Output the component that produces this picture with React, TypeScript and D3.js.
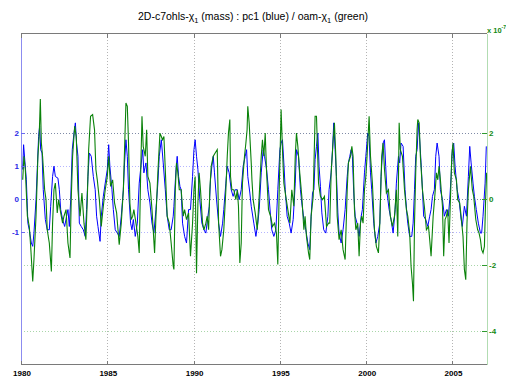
import React, { useEffect, useRef } from 'react';
import * as d3 from 'd3';

// pc1 (blue)
const pc1Years = [
  1980.10, 1980.15, 1980.21, 1980.31, 1980.40, 1980.48, 1980.60, 1980.68, 1980.75, 1980.87, 1980.95,
  1981.02, 1981.08, 1981.14, 1981.22, 1981.29, 1981.41, 1981.52, 1981.64, 1981.72, 1981.83, 1981.91, 1981.99,
  1982.14, 1982.22, 1982.30, 1982.41, 1982.53, 1982.64, 1982.72, 1982.80, 1982.88, 1982.97,
  1983.07, 1983.15, 1983.22, 1983.30, 1983.38, 1983.49, 1983.61, 1983.72, 1983.80, 1983.88, 1983.96,
  1984.07, 1984.19, 1984.30, 1984.38, 1984.46, 1984.58, 1984.65, 1984.77, 1984.88,
  1985.00, 1985.08, 1985.15, 1985.27, 1985.35, 1985.46, 1985.58, 1985.69, 1985.81, 1985.93,
  1986.00, 1986.08, 1986.16, 1986.23, 1986.35, 1986.43, 1986.51, 1986.62, 1986.74, 1986.85, 1986.93,
  1987.05, 1987.12, 1987.24, 1987.35, 1987.47, 1987.59, 1987.70, 1987.82, 1987.93,
  1988.01, 1988.13, 1988.24, 1988.36, 1988.47, 1988.59, 1988.70, 1988.82, 1988.86, 1988.98,
  1989.05, 1989.13, 1989.21, 1989.28, 1989.36, 1989.48, 1989.59, 1989.71, 1989.82, 1989.94,
  1990.02, 1990.09, 1990.17, 1990.25, 1990.36, 1990.48, 1990.60, 1990.71, 1990.83, 1990.91, 1990.98,
  1991.06, 1991.14, 1991.21, 1991.33, 1991.45, 1991.56, 1991.68, 1991.75, 1991.87, 1991.95,
  1992.06, 1992.18, 1992.29, 1992.41, 1992.53, 1992.64, 1992.76, 1992.87, 1992.99,
  1993.07, 1993.14, 1993.26, 1993.34, 1993.49, 1993.61, 1993.72, 1993.80, 1993.92,
  1994.03, 1994.11, 1994.23, 1994.34, 1994.46, 1994.53, 1994.65, 1994.77, 1994.88,
  1995.00, 1995.07, 1995.15, 1995.23, 1995.31, 1995.42, 1995.54, 1995.65, 1995.77, 1995.89, 1995.96,
  1996.08, 1996.19, 1996.27, 1996.39, 1996.50, 1996.62, 1996.73, 1996.81, 1996.89, 1996.97,
  1997.04, 1997.12, 1997.20, 1997.27, 1997.35, 1997.43, 1997.54, 1997.66, 1997.78, 1997.85, 1997.97,
  1998.05, 1998.12, 1998.20, 1998.28, 1998.36, 1998.43, 1998.55, 1998.66, 1998.78, 1998.90, 1998.97,
  1999.05, 1999.13, 1999.20, 1999.28, 1999.36, 1999.47, 1999.59, 1999.71, 1999.78, 1999.90, 1999.98,
  2000.09, 2000.17, 2000.25, 2000.32, 2000.44, 2000.56, 2000.67, 2000.79, 2000.86, 2000.98,
  2001.06, 2001.13, 2001.21, 2001.33, 2001.44, 2001.56, 2001.68, 2001.75, 2001.87, 2001.94,
  2002.02, 2002.14, 2002.25, 2002.37, 2002.41, 2002.52, 2002.64, 2002.72, 2002.80, 2002.87, 2002.95,
  2003.03, 2003.10, 2003.18, 2003.26, 2003.33, 2003.45, 2003.57, 2003.68, 2003.76, 2003.84, 2003.95,
  2004.03, 2004.11, 2004.22, 2004.30, 2004.42, 2004.53, 2004.65, 2004.76, 2004.84, 2004.92, 2004.99,
  2005.07, 2005.15, 2005.27, 2005.38, 2005.50, 2005.57, 2005.69, 2005.81, 2005.92,
  2006.00, 2006.08, 2006.19, 2006.27, 2006.38, 2006.50, 2006.62, 2006.69, 2006.77, 2006.89, 2006.96,
];
const pc1Values = [
  0.89, 1.64, 1.24, 0.58, -0.73, -0.93, -1.33, -1.43, -1.03, -0.02, 0.99,
  1.89, 2.2, 1.49, 1.39, 0.28, -0.62, -0.93, -0.93, -0.22, 0.68, 0.99, 0.68,
  0.63, 0.28, -0.32, -0.62, -0.83, -0.52, -0.32, -0.83, -0.02, 1.49,
  1.99, 2.3, 1.69, 1.29, -0.73, -0.83, -0.93, -1.13, -0.32, 0.68, 1.39,
  1.29, 0.68, 0.28, -0.52, -0.83, -1.28, -0.52, 0.08, 0.48,
  0.89, 1.64, 0.99, 0.28, -0.32, -0.93, -1.03, -1.13, -0.52, 0.28,
  1.09, 1.79, 1.29, 0.28, -0.73, -0.93, -0.62, -1.13, -0.73, 0.48, 0.89,
  1.49, 0.79, 1.09, 0.28, -0.12, -0.73, -1.03, -0.32, 0.48,
  1.29, 1.79, 1.09, 0.28, -0.52, -0.93, -0.93, -0.52, -0.22, 0.89,
  1.29, 0.68, 0.38, 0.28, -0.73, -1.13, -1.33, -0.32, -0.32, 0.68,
  1.49, 1.79, 1.29, 0.89, -0.02, -0.73, -0.93, -1.03, -0.52, -0.22, 0.58,
  0.99, 1.29, 0.79, -0.02, -0.73, -1.13, -0.73, -0.32, 0.48, 0.99,
  0.79, 0.28, 0.08, 0.28, 0.28, -0.02, 0.28, 0.99, 1.29,
  1.49, 0.68, 0.18, -0.22, -0.73, -1.13, -0.73, -0.32, 0.79,
  1.49, 1.29, 0.89, 0.28, -0.52, -0.93, -1.13, -0.93, 0.28,
  1.49, 1.69, 1.79, 1.09, 0.28, -0.52, -0.73, -1.03, -0.62, 0.48, 1.49,
  1.29, 0.28, -0.12, -0.62, -0.93, -1.33, -1.53, -0.52, 0.18, 0.28,
  1.19, 1.59, 1.99, 0.99, 0.38, -0.42, -0.93, -1.03, -0.52, 0.28, 0.79,
  1.49, 2.3, 1.49, 0.68, -0.42, -1.03, -1.33, -0.93, -0.32, 0.68, 1.09,
  1.29, 1.49, 1.29, 0.18, -0.52, -0.73, -1.13, -0.52, -0.32, 0.79, 1.29,
  1.99, 1.89, 0.79, 0.28, -0.73, -1.33, -1.13, -0.73, 0.68, 1.69,
  1.79, 0.99, 0.18, -0.32, -0.62, -1.03, -0.32, 0.48, 1.29, 1.09,
  1.69, 1.59, 0.28, -0.52, -0.73, -1.13, -1.13, -0.73, 0.28, 1.29, 1.49,
  2.3, 1.79, 1.09, 0.28, -0.52, -0.62, -0.83, -0.52, -0.32, 0.08, 0.28,
  1.29, 1.69, 1.29, 0.28, -0.02, -0.52, -0.32, -0.52, -0.02, 0.68, 1.49,
  1.69, 0.99, 0.28, -0.02, -0.62, -0.83, -0.22, -0.52, 0.68,
  1.59, 1.09, 0.48, 0.08, -0.32, -0.73, -1.03, -1.03, -0.52, 0.48, 1.59,
];

// oam-chi1 (green), units of 1e-7
const oamYears = [
  1980.10, 1980.17, 1980.25, 1980.37, 1980.48, 1980.56, 1980.68, 1980.75, 1980.87, 1980.98,
  1981.06, 1981.12, 1981.18, 1981.25, 1981.37, 1981.45, 1981.52, 1981.64, 1981.76, 1981.83, 1981.91, 1981.99,
  1982.10, 1982.18, 1982.30, 1982.41, 1982.49, 1982.61, 1982.72, 1982.84, 1982.91, 1982.99,
  1983.11, 1983.20, 1983.30, 1983.42, 1983.53, 1983.65, 1983.76, 1983.84, 1983.92,
  1984.03, 1984.15, 1984.26, 1984.34, 1984.42, 1984.54, 1984.65, 1984.77, 1984.88,
  1985.00, 1985.08, 1985.19, 1985.31, 1985.42, 1985.54, 1985.62, 1985.69, 1985.81, 1985.93,
  1986.00, 1986.08, 1986.16, 1986.23, 1986.31, 1986.39, 1986.47, 1986.54, 1986.66, 1986.77, 1986.85, 1986.93,
  1987.01, 1987.08, 1987.20, 1987.28, 1987.35, 1987.47, 1987.59, 1987.66, 1987.74, 1987.82, 1987.93,
  1988.05, 1988.13, 1988.20, 1988.28, 1988.36, 1988.47, 1988.59, 1988.70, 1988.82, 1988.86, 1988.94,
  1989.01, 1989.09, 1989.17, 1989.28, 1989.40, 1989.48, 1989.59, 1989.71, 1989.82, 1989.94,
  1990.02, 1990.09, 1990.17, 1990.25, 1990.32, 1990.40, 1990.52, 1990.60, 1990.71, 1990.79, 1990.87, 1990.94,
  1991.02, 1991.14, 1991.25, 1991.37, 1991.45, 1991.56, 1991.64, 1991.75, 1991.87, 1991.95,
  1992.02, 1992.10, 1992.14, 1992.22, 1992.33, 1992.45, 1992.53, 1992.60, 1992.68, 1992.76, 1992.83, 1992.95,
  1993.03, 1993.10, 1993.14, 1993.22, 1993.34, 1993.38, 1993.45, 1993.57, 1993.69, 1993.80, 1993.92, 1993.99,
  1994.07, 1994.15, 1994.23, 1994.34, 1994.46, 1994.57, 1994.69, 1994.80, 1994.88, 1994.96,
  1995.04, 1995.07, 1995.15, 1995.23, 1995.34, 1995.46, 1995.58, 1995.69, 1995.81, 1995.89, 1995.96,
  1996.04, 1996.15, 1996.27, 1996.39, 1996.46, 1996.54, 1996.66, 1996.73, 1996.81, 1996.93,
  1997.04, 1997.12, 1997.24, 1997.35, 1997.47, 1997.58, 1997.70, 1997.82, 1997.89, 1997.97,
  1998.09, 1998.16, 1998.24, 1998.32, 1998.43, 1998.55, 1998.66, 1998.78, 1998.90, 1998.97,
  1999.09, 1999.17, 1999.24, 1999.32, 1999.40, 1999.51, 1999.59, 1999.67, 1999.74, 1999.82, 1999.90, 1999.98,
  2000.05, 2000.17, 2000.25, 2000.36, 2000.48, 2000.59, 2000.71, 2000.79, 2000.90, 2000.98,
  2001.06, 2001.17, 2001.29, 2001.40, 2001.52, 2001.64, 2001.75, 2001.83, 2001.91, 2001.98,
  2002.10, 2002.22, 2002.33, 2002.41, 2002.52, 2002.60, 2002.68, 2002.74, 2002.80, 2002.87, 2002.95, 2002.99,
  2003.07, 2003.14, 2003.26, 2003.37, 2003.49, 2003.61, 2003.68, 2003.76, 2003.88, 2003.99,
  2004.07, 2004.15, 2004.22, 2004.30, 2004.42, 2004.49, 2004.57, 2004.65, 2004.72, 2004.80, 2004.88, 2004.96,
  2005.03, 2005.11, 2005.23, 2005.30, 2005.42, 2005.50, 2005.61, 2005.69, 2005.77, 2005.84, 2005.92,
  2006.04, 2006.15, 2006.23, 2006.35, 2006.46, 2006.54, 2006.62, 2006.69, 2006.77, 2006.85, 2006.92, 2006.98,
];
const oamValues = [
  0.58, 1.29, 0.89, -0.52, -0.83, -1.43, -2.49, -1.83, -0.52, 1.29,
  1.99, 3.02, 1.69, 1.29, 0.28, -0.02, -0.93, -1.33, -2.19, -0.73, 0.28, 0.48,
  -0.42, -0.02, -0.42, -0.73, -0.52, -0.32, -1.33, -1.78, -0.02, 1.29,
  2.2, 1.89, 0.28, -0.52, 0.18, -0.73, -1.23, -0.02, 1.49,
  2.5, 2.55, 2.09, 0.89, 0.58, -0.02, -0.83, -0.22, 0.28,
  0.68, 1.29, 0.38, 0.58, -0.12, -0.42, -0.93, -1.38, -0.73, 0.28,
  1.49, 2.9, 2.8, 1.69, -0.12, -0.62, -0.52, -0.32, -0.73, -1.13, -1.63, 0.68,
  2.5, 1.59, 1.29, 2.09, 0.68, 0.48, -0.32, -0.93, -1.63, -0.52, 0.79,
  1.99, 1.89, 1.79, 1.89, 0.89, -0.52, -0.73, -1.33, -2.03, -2.13, 0.28,
  1.09, 0.79, 0.28, 0.28, -0.52, -0.32, -0.62, -0.42, -1.73, -0.73,
  0.28, 0.68, -2.24, -0.12, 0.79, 0.28, -0.73, -0.93, -0.73, -0.52, -0.93, 0.28,
  0.99, 1.29, 1.39, 1.49, -0.73, -1.73, -1.53, -0.93, 0.28, 1.29,
  1.99, 2.4, 0.68, 0.28, 0.28, -0.02, 0.28, -0.22, -1.93, -1.33, 0.48, 1.29,
  1.69, 2.09, 2.8, 2.3, 1.09, 0.58, -0.02, -0.42, -0.93, 0.08, 1.29, 1.79,
  1.29, 1.99, 0.79, -0.32, -0.52, -0.83, -0.73, -1.03, -1.98, 0.28,
  1.99, 2.7, 1.49, 0.48, 0.08, -0.32, -0.73, 0.28, -0.22, 1.29, 1.99,
  1.59, 0.79, 0.08, -0.93, -0.52, -1.13, -1.63, -1.83, -0.52, 0.08,
  2.5, 2.5, 0.48, 0.08, -0.02, 0.08, -0.83, -0.73, -0.73, 0.79,
  1.79, 2.3, 1.29, -0.52, -1.23, -0.93, -1.53, -1.83, 0.28, 1.09,
  1.29, 1.59, 1.29, -0.32, -0.93, -0.73, -1.73, -0.73, -0.52, -0.73, 0.28, 0.68,
  1.29, 2.5, 1.29, 0.48, -0.93, -1.43, -1.63, -0.73, 1.29, 1.69,
  0.89, 0.18, 0.28, -0.52, -0.83, -0.52, 0.28, -1.13, 2.3, 1.49,
  1.29, 0.28, -0.32, -0.52, -1.03, -2.03, -2.54, -3.09, -0.73, 0.79, 2.09, 2.4,
  2.3, 1.29, 0.28, -0.22, -0.93, -0.83, -1.23, -1.73, -0.52, 0.18,
  0.79, 0.58, 0.99, 0.58, -0.22, -1.73, -0.62, -0.52, -0.32, -1.33, -0.02, 1.29,
  1.69, 0.79, 0.58, -0.02, -0.12, -0.52, -1.13, -2.13, -2.44, -0.73, 0.28,
  0.99, 0.28, 0.08, -0.62, -0.93, -1.03, -1.23, -1.53, -1.63, -1.43, -0.02, 0.79,
];

const yearTicks = [1980, 1985, 1990, 1995, 2000, 2005];
const leftTicks = [-1, 0, 1, 2];
const rightTicks = [-4, -2, 0, 2];

export default function App() {
  const ref = useRef<SVGSVGElement>(null);

  useEffect(() => {
    const width = 506;
    const height = 378;
    const margin = { top: 33.5, right: 19, bottom: 13.5, left: 21 };
    const blue = '#0000ff';
    const green = '#0a820a';
    const font = "'Liberation Sans', Arial, sans-serif";

    const x = d3.scaleLinear().domain([1980, 2007]).range([margin.left, width - margin.right]);
    const yL = d3.scaleLinear().domain([-5, 5]).range([height - margin.bottom, margin.top]);
    const yR = d3.scaleLinear().domain([-5, 5]).range([height - margin.bottom, margin.top]);

    const svg = d3.select(ref.current);
    svg.selectAll('*').remove();

    const x0 = margin.left;
    const x1 = width - margin.right;
    const y0 = margin.top;
    const y1 = height - margin.bottom;

    // grid
    const grid = svg.append('g').attr('shape-rendering', 'crispEdges');
    grid
      .selectAll('.vg')
      .data(yearTicks.filter((d) => d > 1980))
      .join('line')
      .attr('x1', (d) => Math.round(x(d)) + 0.5)
      .attr('x2', (d) => Math.round(x(d)) + 0.5)
      .attr('y1', y0)
      .attr('y2', y1)
      .attr('stroke', '#b4b4b4')
      .attr('stroke-dasharray', '1,2');
    const hLines = Array.from(new Set([...leftTicks, ...rightTicks]));
    grid
      .selectAll('.hg')
      .data(hLines)
      .join('line')
      .attr('x1', x0)
      .attr('x2', x1)
      .attr('y1', (d) => Math.round(yL(d)) + 0.5)
      .attr('y2', (d) => Math.round(yL(d)) + 0.5)
      .attr('stroke', (d) =>
        leftTicks.includes(d) && rightTicks.includes(d) ? '#7f8aa6' : leftTicks.includes(d) ? '#b4b4ff' : '#a9d6a9',
      )
      .attr('stroke-dasharray', '1,2');

    // data lines
    const pc1 = pc1Years.map((t, i) => [t, pc1Values[i]] as [number, number]);
    const oam = oamYears.map((t, i) => [t, oamValues[i]] as [number, number]);
    svg
      .append('path')
      .attr('d', d3.line<[number, number]>().x((d) => x(d[0])).y((d) => yL(d[1]))(pc1))
      .attr('fill', 'none')
      .attr('stroke', blue)
      .attr('stroke-width', 1);
    svg
      .append('path')
      .attr('d', d3.line<[number, number]>().x((d) => x(d[0])).y((d) => yR(d[1]))(oam))
      .attr('fill', 'none')
      .attr('stroke', green)
      .attr('stroke-width', 1.1);

    // frame
    const frame = svg.append('g').attr('shape-rendering', 'crispEdges');
    frame.append('line').attr('x1', x0).attr('x2', x1).attr('y1', y0).attr('y2', y0).attr('stroke', '#7a7a7a');
    frame.append('line').attr('x1', x0).attr('x2', x1).attr('y1', y1).attr('y2', y1).attr('stroke', '#7a7a7a');
    frame.append('line').attr('x1', x0).attr('x2', x0).attr('y1', y0).attr('y2', y1).attr('stroke', '#8c8cf0');
    frame.append('line').attr('x1', x1 + 0.5).attr('x2', x1 + 0.5).attr('y1', y0).attr('y2', y1).attr('stroke', '#b2dcb2');

    // x ticks (bottom and top, inward)
    yearTicks.forEach((t) => {
      const px = Math.round(x(t)) + 0.5;
      frame.append('line').attr('x1', px).attr('x2', px).attr('y1', y1).attr('y2', y1 - 4).attr('stroke', '#7a7a7a');
      frame.append('line').attr('x1', px).attr('x2', px).attr('y1', y0).attr('y2', y0 + 4).attr('stroke', '#7a7a7a');
    });
    svg
      .append('g')
      .selectAll('text')
      .data(yearTicks)
      .join('text')
      .attr('x', (d) => x(d) + 1)
      .attr('y', y1 + 11)
      .attr('text-anchor', 'middle')
      .attr('font-family', font)
      .attr('font-size', 8)
      .attr('font-weight', 'bold')
      .attr('fill', '#000')
      .text((d) => d);

    // left axis
    leftTicks.forEach((t) => {
      const py = Math.round(yL(t)) + 0.5;
      frame.append('line').attr('x1', x0).attr('x2', x0 + 4).attr('y1', py).attr('y2', py).attr('stroke', '#6a6af0');
    });
    svg
      .append('g')
      .selectAll('text')
      .data(leftTicks)
      .join('text')
      .attr('x', x0 - 2)
      .attr('y', (d) => yL(d) + 3)
      .attr('text-anchor', 'end')
      .attr('font-family', font)
      .attr('font-size', 8)
      .attr('font-weight', 'bold')
      .attr('fill', '#2a2ae6')
      .text((d) => (d < 0 ? '-' + Math.abs(d) : d));

    // right axis
    rightTicks.forEach((t) => {
      const py = Math.round(yR(t)) + 0.5;
      frame.append('line').attr('x1', x1 - 5).attr('x2', x1).attr('y1', py).attr('y2', py).attr('stroke', '#2e9a2e');
    });
    svg
      .append('g')
      .selectAll('text')
      .data(rightTicks)
      .join('text')
      .attr('x', x1 + 2)
      .attr('y', (d) => yR(d) + 3)
      .attr('text-anchor', 'start')
      .attr('font-family', font)
      .attr('font-size', 8)
      .attr('font-weight', 'bold')
      .attr('fill', '#138a13')
      .text((d) => (d < 0 ? '-' + Math.abs(d) : d));

    // exponent label
    const exp = svg
      .append('text')
      .attr('x', x1)
      .attr('y', y0 - 1)
      .attr('font-family', font)
      .attr('font-size', 7.5)
      .attr('font-weight', 'bold')
      .attr('fill', '#138a13');
    exp.append('tspan').text('x 10');
    exp.append('tspan').attr('dy', -4).attr('font-size', 5).text('-7');

    // title
    const title = svg
      .append('text')
      .attr('x', width / 2)
      .attr('y', 20)
      .attr('text-anchor', 'middle')
      .attr('font-family', font)
      .attr('font-size', 10.5)
      .attr('fill', '#000');
    title.append('tspan').text('2D-c7ohls-\u03c7');
    title.append('tspan').attr('dy', 3).attr('font-size', 7.5).text('1');
    title.append('tspan').attr('dy', -3).text(' (mass)  : pc1 (blue) / oam-\u03c7');
    title.append('tspan').attr('dy', 3).attr('font-size', 7.5).text('1');
    title.append('tspan').attr('dy', -3).text(' (green)');
  }, []);

  return (
    <svg
      ref={ref}
      width={506}
      height={378}
      style={{ position: 'absolute', left: 0, top: 0, background: '#fff' }}
    />
  );
}
